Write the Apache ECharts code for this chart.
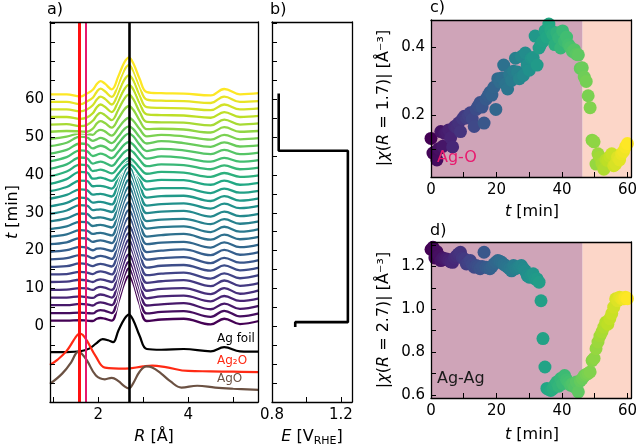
<!DOCTYPE html>
<html>
<head>
<meta charset="utf-8">
<script src="https://cdn.jsdelivr.net/npm/echarts@6/dist/echarts.min.js"></script>
<style>
  html, body { margin: 0; padding: 0; background: #fff; }
  #myChart { width: 640px; height: 448px; }
</style>
</head>
<body>
<div id="myChart"></div>
<script>
// ---- a) stacked |chi(R)| spectra, one per scan time ----
const rGrid = [0.93, 1.3, 1.6, 1.75, 1.88, 1.97, 2.05, 2.15, 2.3, 2.45, 2.58, 2.68, 2.78, 2.92, 3.08, 3.4, 3.9, 4.5, 4.8, 5.15, 5.57]
const scanTimes = [0, 2, 4, 6, 8, 10, 12, 14, 16, 18, 20, 22, 24, 26, 28, 30, 32, 34, 36, 38, 40, 42, 44, 46, 48, 50, 52, 54, 56, 58, 60]
// height of each curve above its own time offset (in plot units)
const scanAmp = [
  [1.5, 1.5, 1.6, 1.5, 1.4, 2.0, 2.2, 2.0, 1.5, 6.5, 11.4, 13.3, 11.4, 5.9, 1.4, 1.8, 2.0, 0.5, 2.0, 0.6, 1.4],
  [1.5, 1.5, 1.6, 1.5, 1.4, 2.0, 2.3, 2.1, 1.5, 6.5, 11.4, 13.3, 11.4, 5.9, 1.4, 1.8, 2.0, 0.5, 2.1, 0.6, 1.4],
  [1.6, 1.6, 1.9, 1.8, 1.5, 2.1, 2.3, 2.1, 1.6, 6.4, 11.2, 13.0, 11.2, 5.9, 1.5, 1.8, 2.1, 0.5, 2.0, 0.6, 1.4],
  [1.6, 1.6, 1.9, 1.7, 1.5, 2.1, 2.4, 2.2, 1.6, 6.4, 11.2, 13.0, 11.1, 5.8, 1.4, 1.9, 2.1, 0.6, 2.0, 0.7, 1.4],
  [1.6, 1.7, 2.1, 2.0, 1.6, 2.2, 2.4, 2.2, 1.6, 6.5, 11.3, 13.2, 11.3, 5.9, 1.4, 1.9, 2.1, 0.5, 2.1, 0.6, 1.5],
  [1.7, 1.8, 2.3, 2.1, 1.7, 2.2, 2.4, 2.2, 1.7, 6.4, 11.0, 12.8, 11.0, 5.8, 1.5, 1.9, 2.2, 0.6, 2.1, 0.7, 1.4],
  [1.7, 1.8, 2.4, 2.2, 1.8, 2.3, 2.5, 2.3, 1.7, 6.3, 10.9, 12.6, 10.8, 5.7, 1.5, 1.9, 2.2, 0.6, 2.0, 0.7, 1.5],
  [1.7, 1.9, 2.6, 2.4, 1.9, 2.3, 2.5, 2.3, 1.8, 6.3, 10.8, 12.5, 10.7, 5.7, 1.5, 2.0, 2.2, 0.7, 2.1, 0.8, 1.5],
  [1.7, 2.0, 2.8, 2.6, 2.0, 2.4, 2.6, 2.4, 1.8, 6.4, 11.0, 12.7, 10.9, 5.8, 1.6, 2.0, 2.3, 0.7, 2.1, 0.8, 1.5],
  [1.7, 2.1, 3.0, 2.8, 2.1, 2.5, 2.6, 2.4, 1.9, 6.4, 11.0, 12.7, 10.9, 5.8, 1.6, 2.0, 2.3, 0.8, 2.2, 0.9, 1.6],
  [1.7, 2.2, 3.3, 3.2, 2.3, 2.6, 2.7, 2.5, 2.0, 6.5, 11.1, 12.8, 11.0, 5.9, 1.7, 2.1, 2.3, 0.8, 2.2, 0.9, 1.6],
  [1.7, 2.3, 3.4, 3.3, 2.4, 2.6, 2.7, 2.5, 2.0, 6.6, 11.2, 12.9, 11.1, 6.0, 1.7, 2.1, 2.4, 0.9, 2.2, 1.0, 1.6],
  [1.7, 2.4, 3.6, 3.5, 2.5, 2.7, 2.8, 2.6, 2.1, 6.6, 11.1, 12.8, 11.0, 6.0, 1.8, 2.2, 2.4, 0.9, 2.3, 1.0, 1.7],
  [1.7, 2.5, 3.8, 3.7, 2.6, 2.7, 2.8, 2.6, 2.1, 6.6, 11.0, 12.7, 11.0, 5.9, 1.8, 2.2, 2.4, 1.0, 2.3, 1.1, 1.7],
  [1.7, 2.6, 4.0, 3.9, 2.7, 2.8, 2.9, 2.7, 2.2, 6.6, 11.0, 12.7, 11.0, 6.0, 1.9, 2.3, 2.5, 1.0, 2.3, 1.1, 1.7],
  [1.7, 2.6, 4.0, 3.8, 2.7, 2.8, 2.9, 2.7, 2.2, 6.5, 10.8, 12.4, 10.7, 5.9, 1.9, 2.3, 2.5, 1.1, 2.4, 1.2, 1.8],
  [1.7, 2.7, 4.2, 4.0, 2.8, 2.9, 3.0, 2.8, 2.3, 6.4, 10.5, 12.1, 10.5, 5.8, 2.0, 2.4, 2.5, 1.1, 2.4, 1.2, 1.8],
  [1.7, 2.8, 4.5, 4.4, 3.0, 3.1, 3.1, 2.9, 2.4, 5.6, 8.8, 10.0, 8.7, 5.1, 2.1, 2.5, 2.5, 1.2, 2.4, 1.3, 1.8],
  [1.6, 2.9, 4.8, 4.7, 3.0, 3.1, 3.3, 3.0, 2.4, 4.3, 6.2, 6.9, 6.2, 4.0, 2.3, 2.7, 2.6, 1.4, 2.5, 1.4, 1.9],
  [1.6, 2.9, 4.7, 4.6, 3.0, 3.2, 3.4, 3.1, 2.4, 4.1, 5.8, 6.5, 5.8, 3.9, 2.3, 2.8, 2.6, 1.5, 2.5, 1.5, 1.9],
  [1.6, 2.8, 4.6, 4.4, 3.0, 3.3, 3.5, 3.2, 2.4, 4.2, 6.0, 6.7, 6.0, 4.0, 2.3, 2.8, 2.6, 1.5, 2.5, 1.5, 1.9],
  [1.6, 2.7, 4.5, 4.3, 3.0, 3.3, 3.6, 3.3, 2.4, 4.2, 6.0, 6.7, 6.0, 4.0, 2.3, 2.9, 2.5, 1.5, 2.5, 1.5, 1.9],
  [1.6, 2.6, 4.3, 4.1, 3.0, 3.4, 3.7, 3.4, 2.4, 4.3, 6.2, 6.9, 6.2, 4.0, 2.3, 2.9, 2.5, 1.5, 2.6, 1.5, 1.9],
  [1.6, 2.5, 4.1, 3.9, 3.0, 3.4, 3.8, 3.4, 2.4, 4.2, 6.1, 6.8, 6.1, 4.0, 2.3, 2.9, 2.4, 1.4, 2.6, 1.5, 1.8],
  [1.5, 2.1, 3.0, 2.8, 2.6, 3.5, 3.9, 3.5, 2.4, 4.4, 6.3, 7.1, 6.3, 4.1, 2.2, 2.6, 2.2, 1.3, 2.6, 1.4, 1.7],
  [1.4, 1.6, 1.5, 1.4, 2.2, 3.6, 4.2, 3.7, 2.5, 4.9, 7.3, 8.2, 7.2, 4.4, 2.1, 2.2, 2.0, 1.2, 2.6, 1.4, 1.6],
  [1.3, 1.4, 0.9, 1.2, 2.3, 3.7, 4.4, 3.8, 2.5, 5.3, 8.1, 9.2, 8.0, 4.7, 2.0, 1.9, 1.8, 1.1, 2.6, 1.3, 1.6],
  [1.3, 1.3, 0.8, 1.2, 2.3, 3.9, 4.6, 4.0, 2.6, 5.6, 8.6, 9.8, 8.6, 5.0, 2.0, 1.8, 1.7, 1.1, 2.6, 1.3, 1.6],
  [1.3, 1.3, 0.8, 1.3, 2.4, 3.9, 4.7, 4.1, 2.6, 5.8, 9.1, 10.3, 9.0, 5.1, 1.9, 1.7, 1.6, 1.1, 2.6, 1.3, 1.6],
  [1.3, 1.3, 0.7, 1.4, 2.4, 4.0, 4.8, 4.1, 2.6, 6.1, 9.7, 11.0, 9.5, 5.4, 1.9, 1.6, 1.5, 1.0, 2.7, 1.3, 1.5],
  [1.3, 1.3, 0.7, 1.5, 2.5, 4.0, 4.8, 4.1, 2.6, 6.1, 9.7, 11.0, 9.5, 5.4, 1.9, 1.6, 1.5, 1.0, 2.7, 1.3, 1.6]
]
// reference spectra (plotted below zero)
const foilR = [0.93, 1.3, 1.6, 1.8, 1.95, 2.1, 2.22, 2.33, 2.45, 2.58, 2.68, 2.78, 2.92, 3.08, 3.4, 3.9, 4.5, 4.8, 5.15, 5.57]
const foilY = [-6.8, -6.8, -6.6, -5.9, -4.6, -3.4, -3.7, -4.2, -1.1, 1.9, 3.1, 1.6, -2.5, -6.0, -6.2, -6.0, -6.6, -5.5, -6.6, -6.7]
const ag2oR = [0.93, 1.1, 1.3, 1.45, 1.53, 1.59, 1.66, 1.75, 1.95, 2.15, 2.6, 3.0, 3.2, 3.5, 4.0, 4.5, 5.0, 5.57]
const ag2oY = [-10.2, -8.8, -6.5, -3.8, -2.4, -1.9, -2.3, -3.8, -8.0, -10.9, -11.2, -10.6, -10.4, -10.8, -11.8, -11.9, -12.0, -12.1]
const agoR = [0.93, 1.2, 1.4, 1.5, 1.56, 1.63, 1.75, 1.95, 2.15, 2.3, 2.45, 2.58, 2.68, 2.78, 2.92, 3.07, 3.2, 3.4, 3.6, 3.85, 4.2, 4.6, 5.0, 5.57]
const agoY = [-15.2, -12.5, -9.5, -7.3, -6.7, -7.2, -9.0, -13.0, -14.0, -13.6, -14.5, -15.8, -16.4, -15.0, -12.0, -10.6, -10.9, -12.5, -14.5, -16.2, -15.7, -16.2, -16.5, -16.8]
const markR = [1.59, 1.73, 2.68]

// ---- b) applied potential vs time ----
const potE = [0.935, 0.935, 1.241, 1.241, 0.839, 0.839]
const potT = [-0.2, 1.1, 1.1, 46.4, 46.4, 61.5]

// ---- c), d) peak magnitudes vs time ----
const timeCD = [0, 0.6, 1.2, 1.8, 2.4, 3, 3.6, 4.2, 4.8, 5.4, 6, 6.6, 7.2, 7.8, 8.4, 9, 9.6, 10.2, 10.8, 11.4,
  12, 12.6, 13.2, 13.8, 14.4, 15, 15.6, 16.2, 16.8, 17.4, 18, 18.6, 19.2, 19.8, 20.4, 21, 21.6, 22.2, 22.8, 23.4,
  24, 24.6, 25.2, 25.8, 26.4, 27, 27.6, 28.2, 28.8, 29.4, 30, 30.6, 31.2, 31.8, 32.4, 33, 33.6, 34.2, 34.8, 35.4,
  36, 36.6, 37.2, 37.8, 38.4, 39, 39.6, 40.2, 40.8, 41.4, 42, 42.6, 43.2, 43.8, 44.4, 45, 45.6, 46.2, 46.8, 47.4,
  48, 48.6, 49.2, 49.8, 50.4, 51, 51.6, 52.2, 52.8, 53.4, 54, 54.6, 55.2, 55.8, 56.4, 57, 57.6, 58.2, 58.8, 59.4, 60]
const chiAgO = [0.133, 0.09, 0.093, 0.07, 0.103, 0.153, 0.11, 0.148, 0.15, 0.158,
  0.135, 0.108, 0.168, 0.165, 0.178, 0.153, 0.19, 0.198, 0.193, 0.2,
  0.208, 0.19, 0.168, 0.218, 0.228, 0.238, 0.225, 0.178, 0.248, 0.258,
  0.268, 0.26, 0.283, 0.218, 0.308, 0.298, 0.31, 0.348, 0.293, 0.278,
  0.32, 0.303, 0.33, 0.368, 0.328, 0.308, 0.373, 0.318, 0.383, 0.348,
  0.333, 0.368, 0.37, 0.433, 0.348, 0.398, 0.41, 0.418, 0.448, 0.43,
  0.468, 0.45, 0.438, 0.408, 0.443, 0.428, 0.398, 0.448, 0.418, 0.43,
  0.408, 0.4, 0.388, 0.393, 0.38, 0.378, 0.338, 0.34, 0.313, 0.3,
  0.258, 0.223, 0.128, 0.123, 0.058, 0.088, 0.078, 0.06, 0.043, 0.07,
  0.068, 0.08, 0.088, 0.053, 0.058, 0.078, 0.07, 0.088, 0.095, 0.108, 0.118]
const chiAgAg = [1.28, 1.29, 1.24, 1.27, 1.25, 1.228, 1.24, 1.235, 1.236, 1.23,
  1.222, 1.22, 1.24, 1.25, 1.26, 1.267, 1.24, 1.236, 1.212, 1.22,
  1.228, 1.21, 1.197, 1.205, 1.2, 1.19, 1.2, 1.267, 1.197, 1.195,
  1.19, 1.2, 1.212, 1.22, 1.228, 1.225, 1.22, 1.21, 1.205, 1.197,
  1.19, 1.18, 1.205, 1.19, 1.195, 1.2, 1.205, 1.19, 1.18, 1.158,
  1.15, 1.16, 1.166, 1.142, 1.142, 1.127, 1.04, 0.863, 0.73, 0.63,
  0.625, 0.62, 0.628, 0.645, 0.66, 0.64, 0.676, 0.652, 0.69, 0.67,
  0.66, 0.645, 0.652, 0.637, 0.66, 0.614, 0.665, 0.676, 0.69, 0.695,
  0.7, 0.707, 0.76, 0.77, 0.816, 0.847, 0.875, 0.894, 0.917, 0.94,
  0.93, 0.956, 0.98, 1.01, 1.049, 1.04, 1.057, 1.05, 1.049, 1.057, 1.05]
const switchTime = 46.3

// ---- styles ----
const FONT = 'DejaVu Sans'
const VIRIDIS = ['#440154', '#482475', '#414487', '#355f8d', '#2a788e', '#21918c', '#22a884', '#44bf70', '#7ad151', '#bddf26', '#fde725']
const markColors = ['#ff1010', '#e8196e', '#000000']
const markWidths = [3, 2, 2.6]

function hexRgb (h) {
  return [1, 3, 5].map(i => parseInt(h.substr(i, 2), 16))
}
function viridis (f) {
  f = Math.max(0, Math.min(1, f))
  const p = f * 10
  const i = Math.min(9, Math.floor(p))
  const u = p - i
  const a = hexRgb(VIRIDIS[i])
  const b = hexRgb(VIRIDIS[i + 1])
  return 'rgb(' + [0, 1, 2].map(k => Math.round(a[k] + (b[k] - a[k]) * u)).join(',') + ')'
}
function pairs (xs, ys) {
  return xs.map((x, i) => [x, ys[i]])
}

// axis helpers
function mainAxis (gi, pos, min, max, extra, fmt) {
  return Object.assign({
    type: 'value', gridIndex: gi, position: pos, min: min, max: max, z: 10,
    axisLine: { show: true, onZero: false, lineStyle: { color: '#000', width: 1.3 } },
    axisTick: { show: true, inside: true, length: 5, lineStyle: { color: '#000', width: 1 } },
    axisLabel: { show: !!fmt, color: '#000', fontSize: 15, fontFamily: FONT, margin: 6, formatter: fmt },
    splitLine: { show: false }
  }, extra || {})
}
function frameAxis (gi, pos) {
  return {
    type: 'value', gridIndex: gi, position: pos, min: 0, max: 1, z: 10,
    axisLine: { show: true, onZero: false, lineStyle: { color: '#000', width: 1.3 } },
    axisTick: { show: false }, axisLabel: { show: false }, splitLine: { show: false }
  }
}
const near = (v, t) => Math.abs(v - t) < 1e-6

const series = []
// reference spectra
const refStyle = [[foilR, foilY, '#000000'], [ag2oR, ag2oY, '#ff2a14'], [agoR, agoY, '#6b5142']]
refStyle.forEach(function (r, i) {
  const s = {
    type: 'line', xAxisIndex: 0, yAxisIndex: 0, data: pairs(r[0], r[1]),
    smooth: 0.4, showSymbol: false, silent: true,
    lineStyle: { color: r[2], width: 2.2 }
  }
  if (i === 2) {
    s.markLine = {
      silent: true, symbol: ['none', 'none'], label: { show: false },
      data: markR.map((x, k) => ({ xAxis: x, lineStyle: { color: markColors[k], width: markWidths[k], type: 'solid' } }))
    }
  }
  series.push(s)
})
// time-resolved spectra, white halo under each coloured curve
scanTimes.forEach(function (t, k) {
  const data = rGrid.map((r, j) => [r, t + scanAmp[k][j]])
  series.push({
    type: 'line', xAxisIndex: 0, yAxisIndex: 0, data: data, smooth: 0.4,
    showSymbol: false, silent: true, lineStyle: { color: '#ffffff', width: 4.4 }
  })
  series.push({
    type: 'line', xAxisIndex: 0, yAxisIndex: 0, data: data, smooth: 0.4,
    showSymbol: false, silent: true, lineStyle: { color: viridis(t / 60), width: 2.3 }
  })
})
// b) potential
series.push({
  type: 'line', xAxisIndex: 1, yAxisIndex: 1, data: pairs(potE, potT),
  showSymbol: false, silent: true, lineStyle: { color: '#000', width: 2.6 }
})
// c), d) backgrounds
const bgAreas = {
  silent: true,
  data: [
    [{ xAxis: 0, itemStyle: { color: '#cfa4b8' } }, { xAxis: switchTime }],
    [{ xAxis: switchTime, itemStyle: { color: '#fcd6c8' } }, { xAxis: 61.2 }]
  ]
}
series.push({ type: 'line', xAxisIndex: 2, yAxisIndex: 2, data: [], markArea: bgAreas })
series.push({ type: 'line', xAxisIndex: 3, yAxisIndex: 3, data: [], markArea: bgAreas })
const scatterIdx = [series.length, series.length + 1]
series.push({
  type: 'scatter', xAxisIndex: 2, yAxisIndex: 2, data: pairs(timeCD, chiAgO),
  symbolSize: 13, silent: true, itemStyle: { opacity: 1 }
})
series.push({
  type: 'scatter', xAxisIndex: 3, yAxisIndex: 3, data: pairs(timeCD, chiAgAg),
  symbolSize: 13, silent: true, itemStyle: { opacity: 1 }
})

// text helpers
function txt (x, y, text, style, rot) {
  return {
    type: 'text', x: x, y: y, rotation: rot || 0, silent: true, z: 30,
    style: Object.assign({
      text: text, fontFamily: FONT, fontSize: 16, fill: '#000',
      align: 'center', verticalAlign: 'middle', lineHeight: 20,
      rich: {
        it: { fontStyle: 'italic', fontFamily: FONT, fontSize: 16, fill: '#000', lineHeight: 20 },
        sub: { fontFamily: FONT, fontSize: 11, fill: '#000', lineHeight: 11, verticalAlign: 'bottom' }
      }
    }, style || {})
  }
}

const option = {
  animation: false,
  backgroundColor: '#ffffff',
  textStyle: { fontFamily: FONT },
  grid: [
    { left: 50, top: 22, width: 208, height: 380, containLabel: false },
    { left: 272, top: 22, width: 80, height: 380, containLabel: false },
    { left: 431, top: 20, width: 201, height: 157, containLabel: false },
    { left: 431, top: 242, width: 201, height: 156, containLabel: false }
  ],
  xAxis: [
    mainAxis(0, 'bottom', 0.93, 5.55, { splitNumber: 5 }, v => (near(v, 2) || near(v, 4)) ? String(Math.round(v)) : ''),
    mainAxis(1, 'bottom', 0.8, 1.265, { interval: 0.2 }, v => near(v, 0.8) ? '0.8' : (near(v, 1.2) ? '1.2' : '')),
    mainAxis(2, 'bottom', 0, 61.2, { interval: 10 }, v => (v % 20 === 0) ? String(v) : ''),
    mainAxis(3, 'bottom', 0, 61.2, { interval: 10 }, v => (v % 20 === 0) ? String(v) : ''),
    frameAxis(0, 'top'), frameAxis(1, 'top'), frameAxis(2, 'top'), frameAxis(3, 'top')
  ],
  yAxis: [
    mainAxis(0, 'left', -20, 80.4, { interval: 5 }, v => (v >= 0 && v <= 60 && v % 10 === 0) ? String(v) : ''),
    mainAxis(1, 'left', -20, 80.4, { interval: 5 }, null),
    mainAxis(2, 'left', 0.02, 0.48, { splitNumber: 5 }, v => (near(v, 0.2) || near(v, 0.4)) ? v.toFixed(1) : ''),
    mainAxis(3, 'left', 0.585, 1.315, { splitNumber: 7 }, v => [0.6, 0.8, 1.0, 1.2].some(t => near(v, t)) ? v.toFixed(1) : ''),
    frameAxis(0, 'right'), frameAxis(1, 'right'), frameAxis(2, 'right'), frameAxis(3, 'right')
  ],
  visualMap: [{
    type: 'continuous', show: false, dimension: 0, min: 0, max: 60,
    seriesIndex: scatterIdx, inRange: { color: VIRIDIS }
  }],
  graphic: [
    txt(47, 10, 'a)', { align: 'left' }),
    txt(270, 10, 'b)', { align: 'left' }),
    txt(430, 8, 'c)', { align: 'left' }),
    txt(430, 231, 'd)', { align: 'left' }),
    txt(154, 437, '{it|R} [Å]'),
    txt(312, 437, '{it|E} [V{sub|RHE}]'),
    txt(532, 212, '{it|t} [min]'),
    txt(532, 435, '{it|t} [min]'),
    txt(13, 212, '{it|t} [min]', null, Math.PI / 2),
    txt(384, 98, '|{it|χ}({it|R} = 1.7)| [Å⁻³]', null, Math.PI / 2),
    txt(384, 320, '|{it|χ}({it|R} = 2.7)| [Å⁻³]', null, Math.PI / 2),
    txt(217, 339, 'Ag foil', { align: 'left', fontSize: 12 }),
    txt(217, 361, 'Ag₂O', { align: 'left', fontSize: 12, fill: '#ff2a14' }),
    txt(217, 379, 'AgO', { align: 'left', fontSize: 12, fill: '#6b5142' }),
    txt(437, 158, 'Ag-O', { align: 'left', fill: '#e8196e' }),
    txt(437, 379, 'Ag-Ag', { align: 'left', fill: '#1a1a1a' })
  ],
  series: series
}

const myChart = echarts.init(document.getElementById('myChart'))
myChart.setOption(option)
</script>
</body>
</html>
